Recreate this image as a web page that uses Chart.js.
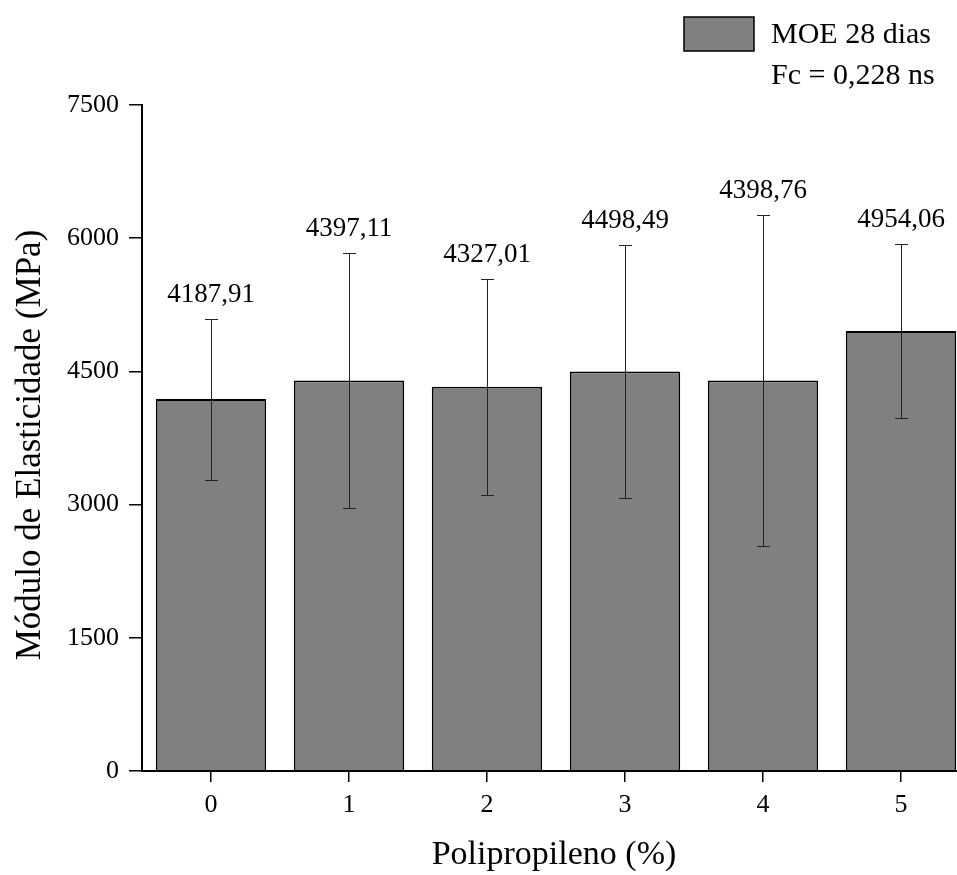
<!DOCTYPE html>
<html>
<head>
<meta charset="utf-8">
<script src="https://cdn.jsdelivr.net/npm/chart.js@4.4.1/dist/chart.umd.min.js"></script>
<style>
  html, body { margin: 0; padding: 0; background: #fff; overflow: hidden; }
  #wrap { width: 970px; height: 875px; position: relative; }
</style>
</head>
<body>
<div id="wrap"><canvas id="c" width="970" height="875"></canvas></div>
<script>
const categories = ['0', '1', '2', '3', '4', '5'];
const moeValues = [4187.91, 4397.11, 4327.01, 4498.49, 4398.76, 4954.06];
const moeErrors = [907, 1432, 1214, 1429, 1866, 975];
const valueLabels = ['4187,91', '4397,11', '4327,01', '4498,49', '4398,76', '4954,06'];
const yTicks = [0, 1500, 3000, 4500, 6000, 7500];
const legendLines = ['MOE 28 dias', 'Fc = 0,228 ns'];
const xTitle = 'Polipropileno (%)';
const yTitle = 'Módulo de Elasticidade (MPa)';

const FONT = '"Liberation Serif", "Times New Roman", serif';

const extrasPlugin = {
  id: 'extras',
  afterDatasetsDraw(chart) {
    const ctx = chart.ctx;
    const meta = chart.getDatasetMeta(0);
    const y = chart.scales.y;
    ctx.save();
    ctx.strokeStyle = '#222';
    ctx.lineWidth = 1;
    meta.data.forEach((bar, i) => {
      const x = Math.round(bar.x) + 0.5;
      const yTop = Math.round(y.getPixelForValue(moeValues[i] + moeErrors[i])) + 0.5;
      const yBot = Math.round(y.getPixelForValue(moeValues[i] - moeErrors[i])) + 0.5;
      ctx.beginPath();
      ctx.moveTo(x, yTop); ctx.lineTo(x, yBot);
      ctx.moveTo(x - 6.5, yTop); ctx.lineTo(x + 6.5, yTop);
      ctx.moveTo(x - 6.5, yBot); ctx.lineTo(x + 6.5, yBot);
      ctx.stroke();
      ctx.fillStyle = '#000';
      ctx.font = '27px ' + FONT;
      ctx.textAlign = 'center';
      ctx.textBaseline = 'alphabetic';
      ctx.fillText(valueLabels[i], bar.x, yTop - 18);
    });
    // legend
    ctx.fillStyle = '#808080';
    ctx.fillRect(684, 17, 70, 34);
    ctx.strokeStyle = '#000';
    ctx.lineWidth = 1.5;
    ctx.strokeRect(684, 17, 70, 34);
    ctx.fillStyle = '#000';
    ctx.font = '30px ' + FONT;
    ctx.textAlign = 'left';
    ctx.textBaseline = 'middle';
    ctx.fillText(legendLines[0], 771, 35);
    ctx.fillText(legendLines[1], 771, 76);
    // axis titles
    ctx.textBaseline = 'alphabetic';
    ctx.textAlign = 'center';
    ctx.font = '34px ' + FONT;
    ctx.fillText(xTitle, 554, 864);
    ctx.translate(40, 445);
    ctx.rotate(-Math.PI / 2);
    ctx.font = '35px ' + FONT;
    ctx.fillText(yTitle, 0, 0);
    ctx.restore();
  }
};

new Chart(document.getElementById('c'), {
  type: 'bar',
  data: {
    labels: categories,
    datasets: [{
      label: legendLines[0],
      data: moeValues,
      backgroundColor: '#808080',
      borderColor: '#000',
      borderWidth: 1.8,
      barPercentage: 0.8,
      categoryPercentage: 1.0
    }]
  },
  options: {
    responsive: false,
    animation: false,
    devicePixelRatio: 1,
    layout: { padding: { top: 105, left: 7, right: 0, bottom: 0 } },
    plugins: { legend: { display: false }, tooltip: { enabled: false } },
    scales: {
      x: {
        offset: true,
        grid: { display: true, offset: false, drawOnChartArea: false, drawTicks: true, tickLength: 11, color: '#000', lineWidth: 1.5 },
        border: { display: true, color: '#000', width: 2 },
        ticks: { color: '#000', font: { family: FONT, size: 26 }, padding: 8 },
        title: { display: false },
        afterFit(scale) { scale.height = 104; }
      },
      y: {
        min: 0, max: 7500,
        afterBuildTicks(scale) { scale.ticks = yTicks.map(v => ({ value: v })); },
        grid: { display: true, drawOnChartArea: false, drawTicks: true, tickLength: 13, color: '#000', lineWidth: 1.5 },
        border: { display: true, color: '#000', width: 2 },
        ticks: { color: '#000', font: { family: FONT, size: 26 }, padding: 10, callback: (v) => String(v) },
        title: { display: false },
        afterFit(scale) { scale.width = 135; }
      }
    }
  },
  plugins: [extrasPlugin]
});
</script>
</body>
</html>
